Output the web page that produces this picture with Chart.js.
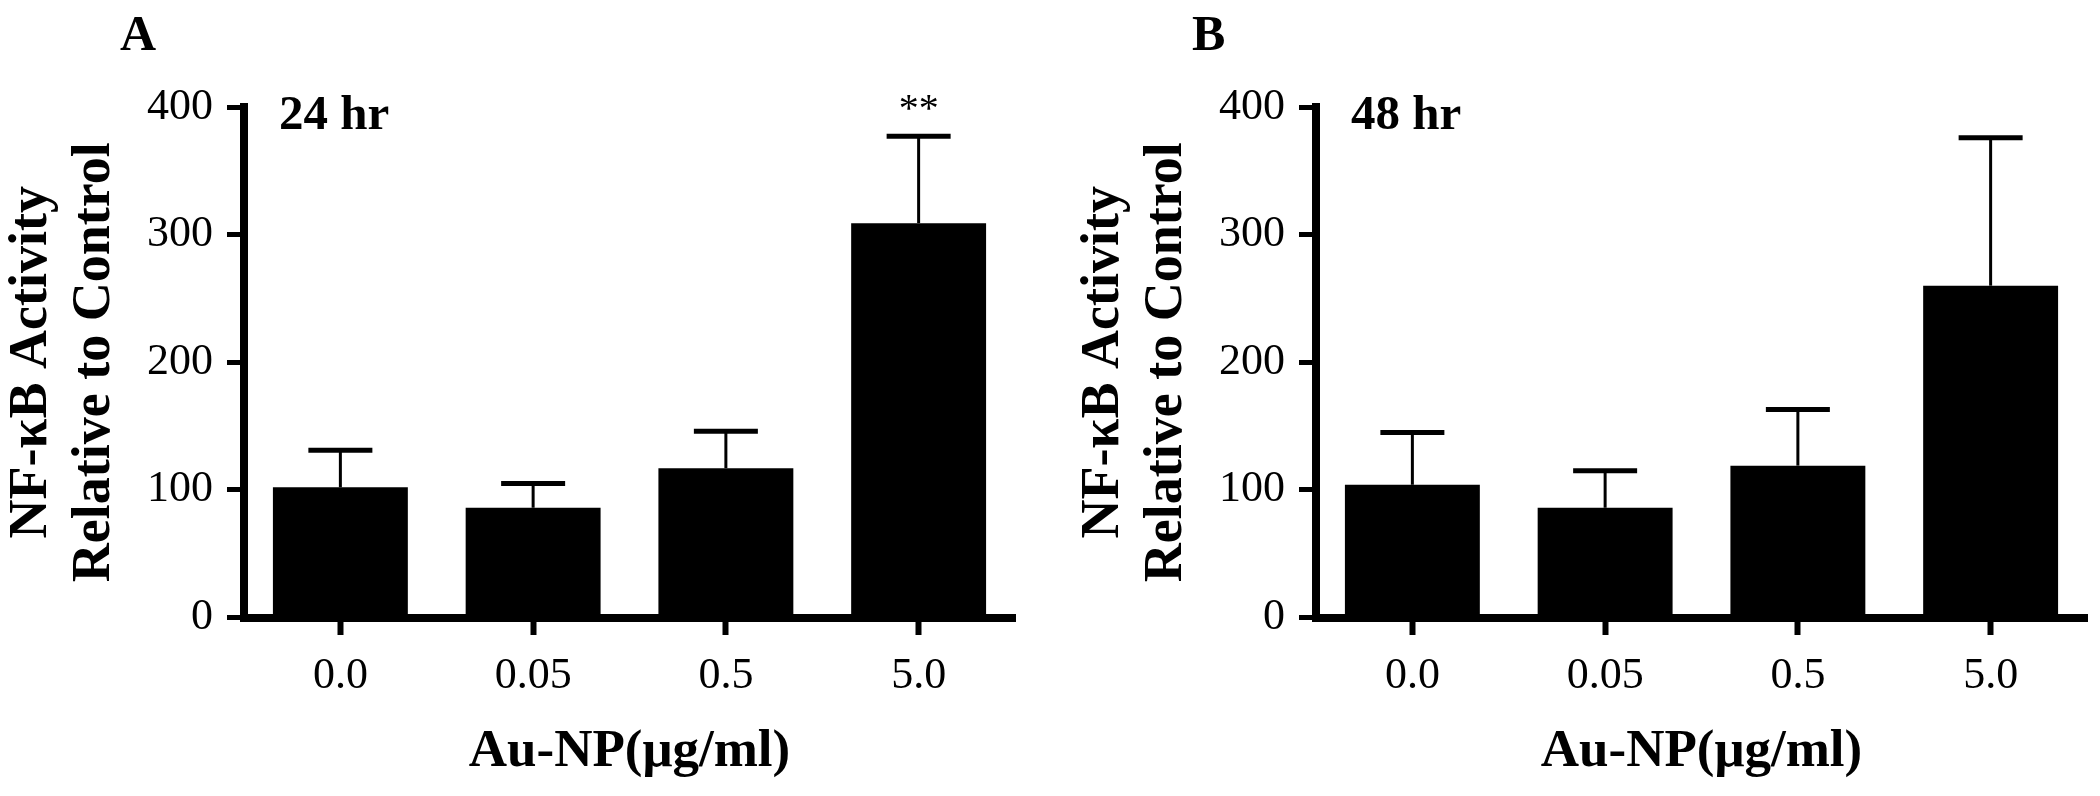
<!DOCTYPE html>
<html>
<head>
<meta charset="utf-8">
<script src="https://cdn.jsdelivr.net/npm/chart.js@4"></script>
<style>
  html, body { margin: 0; padding: 0; background: #fff; }
  body { width: 2100px; height: 796px; position: relative; overflow: hidden; }
  .panel { position: absolute; top: 0; height: 796px; }
  #panel-a { left: 0; width: 1072px; }
  #panel-b { left: 1072px; width: 1028px; }
</style>
</head>
<body>
<div class="panel" id="panel-a"><canvas id="chart-a"></canvas></div>
<div class="panel" id="panel-b"><canvas id="chart-b"></canvas></div>
<script>
// Dados
const doses = ['0.0', '0.05', '0.5', '5.0'];
const yTicks = [0, 100, 200, 300, 400];

// 24 hr
const mean24 = [102, 86, 117, 309];
const sd24 = [29, 19, 29, 68];
const stars24 = ['', '', '', '**'];

// 48 hr
const mean48 = [104, 86, 119, 260];
const sd48 = [41, 29, 44, 116];
const stars48 = ['', '', '', ''];

const serif = "'Liberation Serif', 'Times New Roman', serif";

// Barras de erro (só a metade de cima) e asteriscos
const errorBarPlugin = {
    id: 'errorBars',
    afterDatasetsDraw(chart) {
        const ctx = chart.ctx;
        const y = chart.scales.y;
        chart.data.datasets.forEach((ds, i) => {
            chart.getDatasetMeta(i).data.forEach((bar, j) => {
                const top = y.getPixelForValue(ds.data[j] + ds.sd[j]);
                const base = y.getPixelForValue(ds.data[j]);
                ctx.save();
                ctx.strokeStyle = '#000';
                ctx.lineWidth = 3;
                ctx.beginPath();
                ctx.moveTo(bar.x, base);
                ctx.lineTo(bar.x, top);
                ctx.stroke();
                ctx.lineWidth = 5;
                ctx.beginPath();
                ctx.moveTo(bar.x - 32, top);
                ctx.lineTo(bar.x + 32, top);
                ctx.stroke();
                if (ds.stars[j]) {
                    ctx.fillStyle = '#000';
                    ctx.font = `40px ${serif}`;
                    ctx.textAlign = 'center';
                    ctx.textBaseline = 'alphabetic';
                    ctx.fillText(ds.stars[j], bar.x, top - 15);
                }
                ctx.restore();
            });
        });
    }
};

// Letra do painel e tempo
const panelLabelPlugin = {
    id: 'panelLabel',
    afterDraw(chart, args, opts) {
        const { ctx, chartArea } = chart;
        ctx.save();
        ctx.fillStyle = '#000';
        ctx.textBaseline = 'alphabetic';
        ctx.textAlign = 'left';
        ctx.font = `bold 50px ${serif}`;
        ctx.fillText(opts.letter, chartArea.left - 124, 50);
        ctx.font = `bold 49px ${serif}`;
        ctx.fillText(opts.time, chartArea.left + 35, 129);
        ctx.restore();
    }
};

function makePanel(canvasId, means, sds, stars, letter, time, rightPad) {
    return new Chart(document.getElementById(canvasId), {
        type: 'bar',
        data: {
            labels: doses,
            datasets: [{
                data: means,
                sd: sds,
                stars: stars,
                backgroundColor: '#000',
                borderWidth: 0,
                categoryPercentage: 1,
                barPercentage: 0.7
            }]
        },
        options: {
            responsive: true,
            maintainAspectRatio: false,
            animation: false,
            layout: { padding: { left: 0, top: 107, right: rightPad, bottom: 0 } },
            plugins: {
                legend: { display: false },
                tooltip: { enabled: false },
                panelLabel: { letter: letter, time: time }
            },
            scales: {
                x: {
                    grid: { drawOnChartArea: false, offset: false, tickLength: 17.5, tickWidth: 6, tickColor: '#000' },
                    border: { color: '#000', width: 8 },
                    ticks: { color: '#000', font: { family: serif, size: 44 }, padding: 15, maxRotation: 0 },
                    title: {
                        display: true,
                        text: 'Au-NP(μg/ml)',
                        color: '#000',
                        font: { family: serif, size: 53, weight: 'bold' },
                        padding: { top: 0, bottom: 12 }
                    },
                    afterFit: s => { s.height = 178.5; }
                },
                y: {
                    min: 0,
                    max: 400,
                    afterBuildTicks: s => { s.ticks = yTicks.map(v => ({ value: v })); },
                    grid: { drawOnChartArea: false, tickLength: 17, tickWidth: 5, tickColor: '#000' },
                    border: { color: '#000', width: 8 },
                    ticks: { color: '#000', font: { family: serif, size: 44 }, padding: 14 },
                    title: {
                        display: true,
                        text: ['NF-κB Activity', 'Relative to Control'],
                        color: '#000',
                        font: { family: serif, size: 54, weight: 'bold', lineHeight: '63px' },
                        padding: { top: 1, bottom: 0 }
                    },
                    afterFit: s => { s.width = 244; }
                }
            }
        },
        plugins: [errorBarPlugin, panelLabelPlugin]
    });
}

makePanel('chart-a', mean24, sd24, stars24, 'A', '24 hr', 57);
makePanel('chart-b', mean48, sd48, stars48, 'B', '48 hr', 13);
</script>
</body>
</html>
